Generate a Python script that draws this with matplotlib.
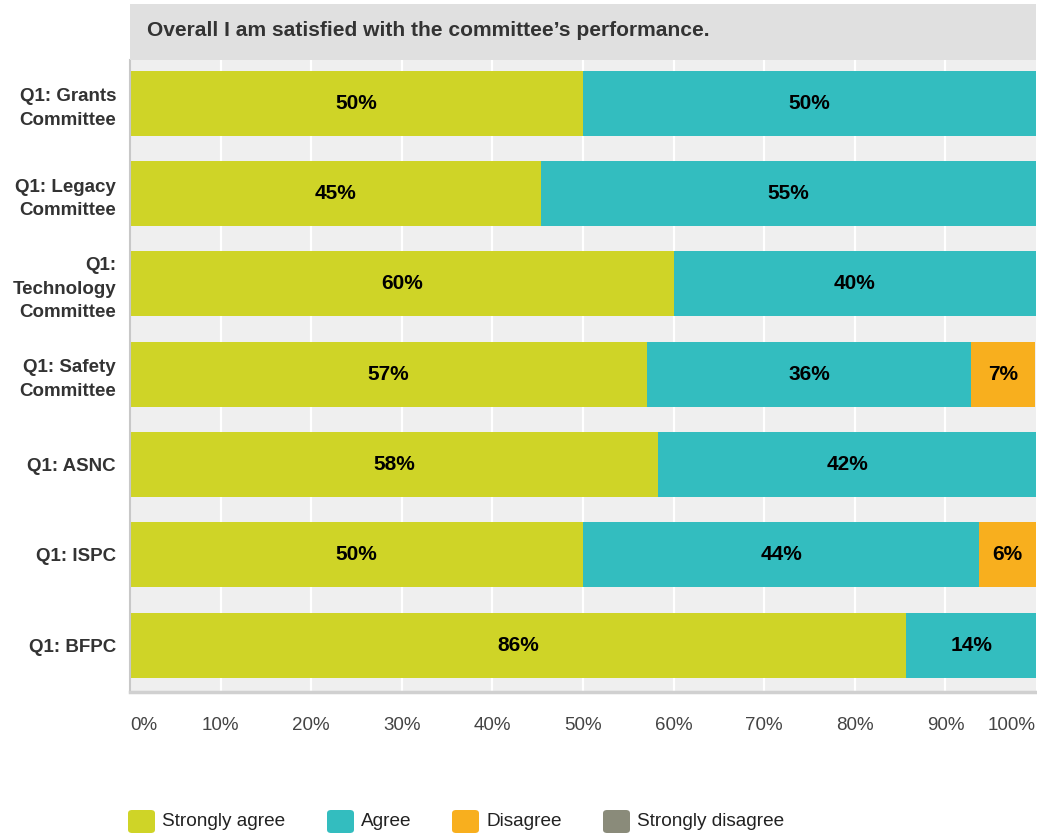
import matplotlib
matplotlib.use("Agg")
import matplotlib.pyplot as plt
from matplotlib.patches import Rectangle, FancyBboxPatch
import numpy as np

plt.rcParams['font.family'] = ['Liberation Sans', 'DejaVu Sans']

title = "Overall I am satisfied with the committee\u2019s performance."
categories = ["Q1: Grants\nCommittee", "Q1: Legacy\nCommittee", "Q1:\nTechnology\nCommittee",
              "Q1: Safety\nCommittee", "Q1: ASNC", "Q1: ISPC", "Q1: BFPC"]
series_names = ["Strongly agree", "Agree", "Disagree", "Strongly disagree"]
strongly_agree = [50.0, 45.4, 60.0, 57.1, 58.3, 50.0, 85.7]
agree = [50.0, 54.6, 40.0, 35.7, 41.7, 43.75, 14.3]
disagree = [0, 0, 0, 7.1, 0, 6.25, 0]
strongly_disagree = [0, 0, 0, 0, 0, 0, 0]
colors = ["#CFD427", "#33BDBF", "#F8AF1E", "#8A8B7A"]
xticks = [0, 10, 20, 30, 40, 50, 60, 70, 80, 90, 100]
xticklabels = ["0%", "10%", "20%", "30%", "40%", "50%", "60%", "70%", "80%", "90%", "100%"]

W, H = 1037, 835
fig = plt.figure(figsize=(W / 100, H / 100), dpi=100)

def fx(px):
    return px / W

def fy(py):
    return 1 - py / H

ax_l, ax_r, ax_t, ax_b = 130, 1036, 60, 692
ax = fig.add_axes([fx(ax_l), fy(ax_b), fx(ax_r - ax_l), (ax_b - ax_t) / H])
ax.set_facecolor("#EFEFEF")
ax.set_xlim(0, 100)
ax.set_ylim(len(categories) - 0.5, -0.5)

for xv in xticks[1:-1]:
    ax.axvline(xv, color="white", lw=1.6, zorder=1)

series = [strongly_agree, agree, disagree, strongly_disagree]
y = np.arange(len(categories))
left = np.zeros(len(categories))
for vals, col in zip(series, colors):
    vals = np.array(vals, dtype=float)
    ax.barh(y - 0.02, vals, left=left, height=0.72, color=col, zorder=2)
    for yi, (l, v) in enumerate(zip(left, vals)):
        if v > 0:
            ax.text(l + v / 2, yi - 0.02, f"{round(v):.0f}%", ha="center", va="center",
                    fontsize=15, fontweight="bold", color="black", zorder=3)
    left += vals

ax.set_yticks(y - 0.02)
ax.set_yticklabels(categories, fontsize=13.5, fontweight="bold", color="#333333",
                   multialignment="right", linespacing=1.5)
ax.tick_params(axis="y", length=0, pad=10)
ax.set_xticks(xticks)
ax.set_xticklabels([])
ax.tick_params(axis="x", length=0)
ty = -(725 - ax_b) / (ax_b - ax_t)
for i, (xv, lab) in enumerate(zip(xticks, xticklabels)):
    ha = "left" if i == 0 else ("right" if i == len(xticks) - 1 else "center")
    ax.text(xv, ty, lab, transform=ax.get_xaxis_transform(), ha=ha, va="center",
            fontsize=13.5, color="#444444")

for s in ["top", "right"]:
    ax.spines[s].set_visible(False)
ax.spines["left"].set_color("#C8C8C8")
ax.spines["left"].set_linewidth(1.5)
ax.spines["bottom"].set_color("#D0D0D0")
ax.spines["bottom"].set_linewidth(2.5)

# header band
fig.patches.append(Rectangle((fx(ax_l), fy(60)), fx(ax_r - ax_l), (60 - 4) / H,
                             transform=fig.transFigure, facecolor="#E0E0E0",
                             edgecolor="none", zorder=0))
fig.text(fx(147), fy(31), title, ha="left", va="center", fontsize=15.1,
         fontweight="bold", color="#333333")

# legend
leg_marker_x = [128, 327, 452, 603]
for mx, name, col in zip(leg_marker_x, series_names, colors):
    fig.patches.append(FancyBboxPatch((fx(mx), fy(833)), fx(27), 23 / H,
                                      boxstyle="round,pad=0.0,rounding_size=0.004",
                                      transform=fig.transFigure, facecolor=col,
                                      edgecolor="none"))
    fig.text(fx(mx + 34), fy(821), name, ha="left", va="center", fontsize=13.7,
             color="#222222")

fig.savefig("out.png", dpi=100)
